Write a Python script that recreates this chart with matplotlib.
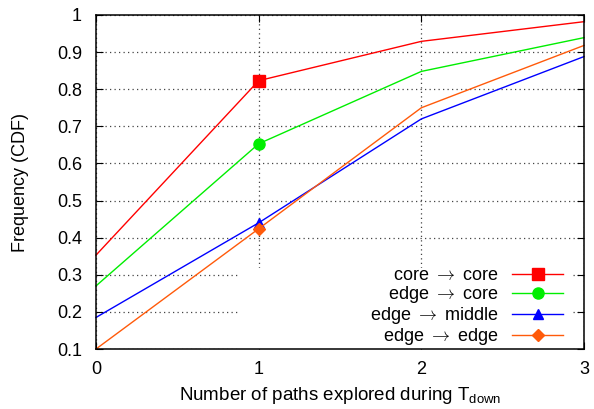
import matplotlib
matplotlib.use("Agg")
import matplotlib.pyplot as plt
from matplotlib.patches import Rectangle
from matplotlib.lines import Line2D
from matplotlib.font_manager import FontProperties

plt.rcParams['font.family'] = ['Liberation Sans', 'DejaVu Sans']
plt.rcParams['mathtext.fontset'] = 'custom'
plt.rcParams['mathtext.rm'] = 'Liberation Sans'
plt.rcParams['mathtext.it'] = 'Liberation Sans'

x = [0, 1, 2, 3]
core_core = [0.353, 0.823, 0.929, 0.982]
edge_core = [0.270, 0.653, 0.848, 0.939]
edge_middle = [0.185, 0.440, 0.720, 0.888]
edge_edge = [0.100, 0.424, 0.750, 0.918]

labels = ["core $\\rightarrow$ core", "edge $\\rightarrow$ core",
          "edge $\\rightarrow$ middle", "edge $\\rightarrow$ edge"]
series = [core_core, edge_core, edge_middle, edge_edge]
colors = ["#ff0000", "#00ee00", "#0000ff", "#ff5a0a"]
markers = ["s", "o", "^", "D"]
msizes = [8, 8, 7.5, 6]

xticks = [0, 1, 2, 3]
yticks = [0.1, 0.2, 0.3, 0.4, 0.5, 0.6, 0.7, 0.8, 0.9, 1.0]
ytick_labels = ["0.1", "0.2", "0.3", "0.4", "0.5", "0.6", "0.7", "0.8", "0.9", "1"]

fig = plt.figure(figsize=(5.94, 4.09), dpi=100)
ax = fig.add_axes([96/594, 1 - 349/409, (584 - 96)/594, (349 - 15)/409])

ax.set_xlim(0, 3)
ax.set_ylim(0.1, 1.0)
ax.set_xticks(xticks)
ax.set_yticks(yticks)
ax.set_yticklabels(ytick_labels)
ax.tick_params(direction='in', length=5, width=0.8, top=True, right=True,
               labelsize=13, pad=10, colors='black')
ax.tick_params(axis='x', pad=9)
ax.grid(True, color='#444444', linestyle=(0, (1, 2.6)), linewidth=0.9, zorder=1)
ax.set_axisbelow(True)
for s in ax.spines.values():
    s.set_linewidth(1.1)
    s.set_zorder(5)

for vals, lab, c, m, ms in zip(series, labels, colors, markers, msizes):
    ax.plot(x, vals, color=c, linewidth=1.0, marker=m, markersize=ms,
            markevery=[1], label=lab, zorder=4, clip_on=False)

# opaque legend area that hides grid lines
ax.add_patch(Rectangle(((238 - 96) / 488, 0), (572 - 238) / 488, (349 - 268) / 334,
                       transform=ax.transAxes, facecolor='white', edgecolor='none',
                       zorder=2))

handles = [Line2D([0], [0], color=c, linewidth=1.0, marker=m, markersize=ms)
           for c, m, ms in zip(colors, markers, msizes)]
legprop = FontProperties(family=['Liberation Sans', 'DejaVu Sans'], size=13,
                         math_fontfamily='cm')
leg = ax.legend(handles, labels, loc='lower right', markerfirst=False, frameon=False,
                prop=legprop, handlelength=2.8, handletextpad=0.75, labelspacing=0.0,
                borderaxespad=0.0, borderpad=0.0,
                bbox_to_anchor=((563 - 96) / 488, (349 - 347) / 334))
for t in leg.get_texts():
    t.set_ha('right')
leg._legend_box.align = "right"
leg.set_zorder(6)

ax.set_xlabel("Number of paths explored during T$_{\\mathrm{down}}$", fontsize=13.5, labelpad=5)
ax.set_ylabel("Frequency (CDF)", fontsize=13, labelpad=20)

fig.savefig("out.png", dpi=100)
